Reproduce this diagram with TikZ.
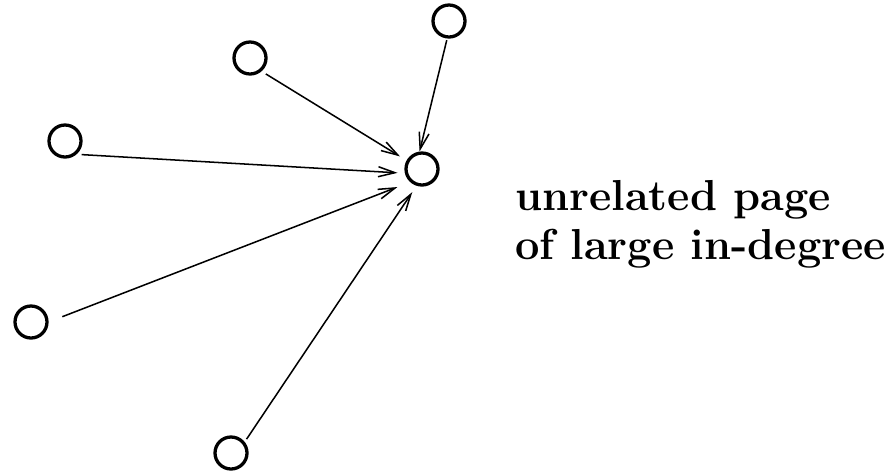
\documentclass[tikz,border=0pt]{standalone}
\usepackage{tikz}
\usetikzlibrary{arrows.meta, positioning}

\begin{document}
\begin{tikzpicture}[
    x=0.03cm, y=-0.03cm,
    page/.style={circle,draw,line width=2.8pt,minimum size=0.96cm,inner sep=0pt},
    link/.style={line width=1.3pt,-{Straight Barb[length=0.5cm,width=0.3cm,line width=1.3pt]}}
    ]
    \useasboundingbox (0,0) rectangle (893,472);
    % Nodes
    \node[page] (hub) at (422,169) {};
    \node[page] (1) at (449,21) {};
    \node[page] (2) at (250,58) {};
    \node[page] (3) at (65,141) {};
    \node[page] (4) at (31,322) {};
    \node[page] (5) at (231,453) {};
    \node[anchor=west,align=left,font=\fontsize{37}{42}\selectfont\bfseries] (label) at (511,224)
        {unrelated page\\of large in-degree};

    % Links pointing into the hub
    \draw[link, shorten <=0.05cm] (1.264) -- (hub.98);
    \draw[link, shorten <=0.15cm, shorten >=0.23cm] (2.311) -- (hub.151);
    \draw[link, shorten <=0.15cm, shorten >=0.22cm] (3.311) -- (hub.194);
    \draw[link, shorten <=0.44cm, shorten >=0.41cm] (4.0) -- (hub.228);
    \draw[link, shorten <=0.10cm, shorten >=0.23cm] (5.39) -- (hub.252);
\end{tikzpicture}
\end{document}
